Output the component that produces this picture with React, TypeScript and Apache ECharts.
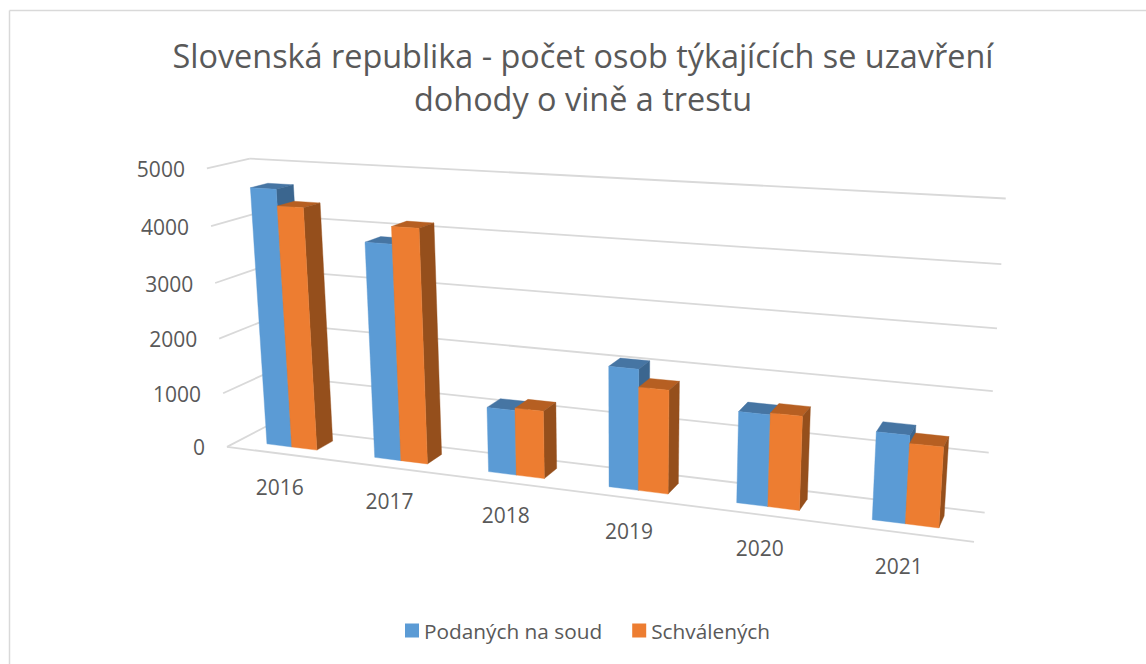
import React, { useEffect, useRef } from "react";
import * as echarts from "echarts";

const titleLines = ["Slovenská republika - počet osob týkajících se uzavření", "dohody o vině a trestu"];
const categories = ["2016", "2017", "2018", "2019", "2020", "2021"];
const yTicks = [0, 1000, 2000, 3000, 4000, 5000];
const podanych = [4640, 3830, 1145, 2070, 1535, 1440];
const schvalenych = [4350, 4130, 1185, 1770, 1565, 1310];
const seriesNames = ["Podaných na soud", "Schválených"];

const FONT = '"Open Sans", sans-serif';
const TEXT = "#595959";
const GRID = "#D9D9D9";
const W = 1146;
const H = 664;
const BAR = 0.235; // one bar as a share of a category band
const W0 = 0.3; // front of the bars (0 = front of floor, 1 = back wall)
const W1 = 0.72; // back of the bars

const faces = [
  { front: "#5B9BD5", side: "#3B668F", top: "#4675A3" },
  { front: "#ED7D31", side: "#954F1C", top: "#B65F22" },
];

// Camera calibration: [u, v, w] of the plot box -> pixel
const calib: number[][] = [
  [0, 0, 0, 227, 447], [1, 0, 0, 974, 543], [0, 0, 1, 267, 427], [1, 0, 1, 984, 513],
  [0, 1, 1, 250, 158], [1, 1, 1, 1005, 198], [0, 1, 0, 207, 169],
  [0, 0.8, 0, 211, 226], [0, 0.6, 0, 215, 283], [0, 0.4, 0, 219, 339], [0, 0.2, 0, 223, 393],
  [1, 0.8, 1, 1001, 265], [1, 0.6, 1, 998, 328], [1, 0.4, 1, 994, 392], [1, 0.2, 1, 988, 452],
  [1 / 12, 0, W0, 292, 447], [3 / 12, 0, W0, 401, 460], [5 / 12, 0, W0, 516, 474.5],
  [7 / 12, 0, W0, 638.5, 490], [9 / 12, 0, W0, 768, 506.5], [11 / 12, 0, W0, 905.5, 523],
];

function solveCamera(): number[] {
  const n = 11;
  const A: number[][] = Array.from({ length: n }, () => new Array(n + 1).fill(0));
  const add = (row: number[], b: number) => {
    for (let i = 0; i < n; i++) {
      for (let j = 0; j < n; j++) A[i][j] += row[i] * row[j];
      A[i][n] += row[i] * b;
    }
  };
  for (const [u, v, w, x, y] of calib) {
    add([u, v, w, 1, 0, 0, 0, 0, -x * u, -x * v, -x * w], x);
    add([0, 0, 0, 0, u, v, w, 1, -y * u, -y * v, -y * w], y);
  }
  for (let c = 0; c < n; c++) {
    let p = c;
    for (let r = c + 1; r < n; r++) if (Math.abs(A[r][c]) > Math.abs(A[p][c])) p = r;
    [A[c], A[p]] = [A[p], A[c]];
    for (let r = 0; r < n; r++) {
      if (r === c) continue;
      const f = A[r][c] / A[c][c];
      for (let k = c; k <= n; k++) A[r][k] -= f * A[c][k];
    }
  }
  return A.map((row, i) => row[n] / row[i]);
}
const P = solveCamera();
const project = (u: number, v: number, w: number): number[] => {
  const d = P[8] * u + P[9] * v + P[10] * w + 1;
  return [(P[0] * u + P[1] * v + P[2] * w + P[3]) / d, (P[4] * u + P[5] * v + P[6] * w + P[7]) / d];
};

const gridSeries = (): any => ({
  type: "custom",
  silent: true,
  data: yTicks.map((t) => [0, t]),
  z: 1,
  renderItem: (_p: any, api: any) => {
    const v = 1 - api.coord([0, api.value(1)])[1] / H;
    const a = project(0, v, 0);
    const b = project(0, v, 1);
    const c = project(1, v, 1);
    const line = (p: number[], q: number[]) => ({
      type: "line",
      shape: { x1: p[0], y1: p[1], x2: q[0], y2: q[1] },
      style: { stroke: GRID, lineWidth: 1.8 },
    });
    const kids: any[] = [
      line(a, b),
      line(b, c),
      {
        type: "text",
        x: a[0] - 22,
        y: a[1] + 0.5,
        style: { text: String(api.value(1)), fill: TEXT, font: `21px ${FONT}`, align: "right", verticalAlign: "middle" },
      },
    ];
    if (api.value(1) === 0) kids.push(line(a, project(1, 0, 0)));
    return { type: "group", children: kids };
  },
});

const labelSeries = (): any => ({
  type: "custom",
  silent: true,
  data: categories.map((_c, i) => [i, 0]),
  z: 1,
  renderItem: (_p: any, api: any) => {
    const i = api.value(0);
    const u = api.coord([i, 0])[0] / W;
    const p = project(u, 0, 0);
    return {
      type: "text",
      x: p[0] - u * 2.5,
      y: p[1] + 33,
      style: { text: categories[i], fill: TEXT, font: `21px ${FONT}`, align: "center", verticalAlign: "middle" },
    };
  },
});

const barSeries = (name: string, values: number[], idx: number): any => ({
  type: "custom",
  name,
  silent: true,
  itemStyle: { color: faces[idx].front },
  data: values.map((v, i) => [i, v]),
  z: 2 + idx,
  renderItem: (_p: any, api: any) => {
    const c = api.coord([api.value(0), api.value(1)]);
    const band = api.size([1, 0])[0] / W;
    const u0 = c[0] / W + (idx - 1) * BAR * band;
    const u1 = u0 + BAR * band;
    const v = 1 - c[1] / H;
    const pts = (a: number[][]) => a.map(([u, vv, w]) => project(u, vv, w));
    const poly = (a: number[][], fill: string) => ({
      type: "polygon",
      shape: { points: pts(a) },
      style: { fill, stroke: fill, lineWidth: 0.4 },
    });
    return {
      type: "group",
      children: [
        poly([[u0, v, W1], [u1, v, W1], [u1, v, W0], [u0, v, W0]], faces[idx].top),
        poly([[u1, 0, W0], [u1, 0, W1], [u1, v, W1], [u1, v, W0]], faces[idx].side),
        poly([[u0, 0, W0], [u1, 0, W0], [u1, v, W0], [u0, v, W0]], faces[idx].front),
      ],
    };
  },
});

export default function App() {
  const ref = useRef<HTMLDivElement>(null);
  useEffect(() => {
    document.body.style.margin = "0";
    const chart = echarts.init(ref.current!, undefined, { renderer: "svg" });
    chart.setOption({
      animation: false,
      backgroundColor: "#FFFFFF",
      title: {
        text: titleLines.join("\n"),
        left: 578,
        top: 28,
        textAlign: "center",
        textStyle: { color: TEXT, fontFamily: FONT, fontSize: 32.4, fontWeight: "normal", lineHeight: 43 },
      },
      grid: { left: 0, right: 0, top: 0, bottom: 0 },
      xAxis: { type: "category", data: categories, show: false },
      yAxis: { type: "value", min: 0, max: 5000, interval: 1000, show: false },
      legend: {
        data: seriesNames,
        left: 400,
        top: 615,
        icon: "rect",
        itemWidth: 14,
        itemHeight: 14,
        itemGap: 30,
        selectedMode: false,
        textStyle: { color: TEXT, fontFamily: FONT, fontSize: 20.8 },
      },
      graphic: [
        { type: "line", silent: true, shape: { x1: 9.5, y1: 10.5, x2: 1146, y2: 10.5 }, style: { stroke: GRID, lineWidth: 1.5 } },
        { type: "line", silent: true, shape: { x1: 9.5, y1: 10.5, x2: 9.5, y2: 664 }, style: { stroke: GRID, lineWidth: 1.5 } },
      ],
      series: [gridSeries(), labelSeries(), barSeries(seriesNames[0], podanych, 0), barSeries(seriesNames[1], schvalenych, 1)],
    });
    return () => chart.dispose();
  }, []);
  return <div ref={ref} style={{ width: W, height: H }} />;
}
